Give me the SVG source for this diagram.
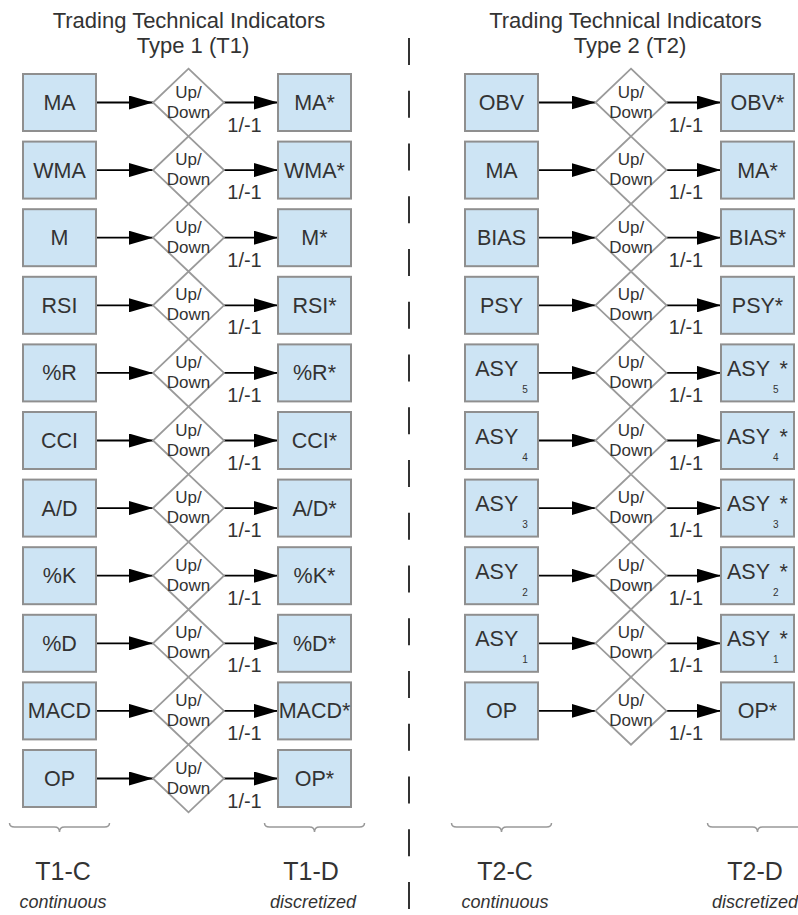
<svg xmlns="http://www.w3.org/2000/svg" xmlns:xlink="http://www.w3.org/1999/xlink" width="798" height="915" viewBox="0 0 798 915">
<style>
text{font-family:"Liberation Sans",Arial,sans-serif;fill:#333;text-anchor:middle}
.box{fill:#cde4f4;stroke:#8f8f8f;stroke-width:2}
.dia{fill:#fff;stroke:#9a9a9a;stroke-width:1.8}
.lbl{font-size:21.5px}
.ud{font-size:17px}
.val{font-size:20px}
.ttl{font-size:22px}
.grp{font-size:25px}
.sub{font-size:18px;font-style:italic}
.arr{stroke:#000;stroke-width:1.8;marker-end:url(#ah)}
.brace{fill:none;stroke:#999;stroke-width:1.5}
</style>
<defs>
<marker id="ah" markerUnits="userSpaceOnUse" markerWidth="24" markerHeight="14" refX="24" refY="7" orient="auto">
<path d="M0,0 L24,7 L0,14 z" fill="#000"/>
</marker>
<polygon id="dshape" class="dia" points="0,-33.8 35.5,0 0,33.8 -35.5,0"/>
</defs>
<rect width="798" height="915" fill="#fff"/>

<g id="titles">
<text class="ttl" x="189" y="28">Trading Technical Indicators</text>
<text class="ttl" x="193" y="53">Type 1 (T1)</text>
<text class="ttl" x="625.5" y="28">Trading Technical Indicators</text>
<text class="ttl" x="630" y="53">Type 2 (T2)</text>
</g>

<line id="divider" x1="409" y1="38" x2="409" y2="915" stroke="#333" stroke-width="2" stroke-dasharray="27 25.75"/>

<g id="connectors">
<line class="arr" x1="96" y1="102.5" x2="153" y2="102.5"/><line class="arr" x1="224" y1="102.5" x2="278" y2="102.5"/>
<line class="arr" x1="96" y1="170.1" x2="153" y2="170.1"/><line class="arr" x1="224" y1="170.1" x2="278" y2="170.1"/>
<line class="arr" x1="96" y1="237.7" x2="153" y2="237.7"/><line class="arr" x1="224" y1="237.7" x2="278" y2="237.7"/>
<line class="arr" x1="96" y1="305.3" x2="153" y2="305.3"/><line class="arr" x1="224" y1="305.3" x2="278" y2="305.3"/>
<line class="arr" x1="96" y1="372.9" x2="153" y2="372.9"/><line class="arr" x1="224" y1="372.9" x2="278" y2="372.9"/>
<line class="arr" x1="96" y1="440.5" x2="153" y2="440.5"/><line class="arr" x1="224" y1="440.5" x2="278" y2="440.5"/>
<line class="arr" x1="96" y1="508.1" x2="153" y2="508.1"/><line class="arr" x1="224" y1="508.1" x2="278" y2="508.1"/>
<line class="arr" x1="96" y1="575.7" x2="153" y2="575.7"/><line class="arr" x1="224" y1="575.7" x2="278" y2="575.7"/>
<line class="arr" x1="96" y1="643.3" x2="153" y2="643.3"/><line class="arr" x1="224" y1="643.3" x2="278" y2="643.3"/>
<line class="arr" x1="96" y1="710.9" x2="153" y2="710.9"/><line class="arr" x1="224" y1="710.9" x2="278" y2="710.9"/>
<line class="arr" x1="96" y1="778.5" x2="153" y2="778.5"/><line class="arr" x1="224" y1="778.5" x2="278" y2="778.5"/>

<line class="arr" x1="538" y1="102.5" x2="595.5" y2="102.5"/><line class="arr" x1="666.5" y1="102.5" x2="721" y2="102.5"/>
<line class="arr" x1="538" y1="170.1" x2="595.5" y2="170.1"/><line class="arr" x1="666.5" y1="170.1" x2="721" y2="170.1"/>
<line class="arr" x1="538" y1="237.7" x2="595.5" y2="237.7"/><line class="arr" x1="666.5" y1="237.7" x2="721" y2="237.7"/>
<line class="arr" x1="538" y1="305.3" x2="595.5" y2="305.3"/><line class="arr" x1="666.5" y1="305.3" x2="721" y2="305.3"/>
<line class="arr" x1="538" y1="372.9" x2="595.5" y2="372.9"/><line class="arr" x1="666.5" y1="372.9" x2="721" y2="372.9"/>
<line class="arr" x1="538" y1="440.5" x2="595.5" y2="440.5"/><line class="arr" x1="666.5" y1="440.5" x2="721" y2="440.5"/>
<line class="arr" x1="538" y1="508.1" x2="595.5" y2="508.1"/><line class="arr" x1="666.5" y1="508.1" x2="721" y2="508.1"/>
<line class="arr" x1="538" y1="575.7" x2="595.5" y2="575.7"/><line class="arr" x1="666.5" y1="575.7" x2="721" y2="575.7"/>
<line class="arr" x1="538" y1="643.3" x2="595.5" y2="643.3"/><line class="arr" x1="666.5" y1="643.3" x2="721" y2="643.3"/>
<line class="arr" x1="538" y1="710.9" x2="595.5" y2="710.9"/><line class="arr" x1="666.5" y1="710.9" x2="721" y2="710.9"/>

<g id="conn-labels">
<text class="val" x="244.5" y="131.5">1/-1</text>
<text class="val" x="244.5" y="199.1">1/-1</text>
<text class="val" x="244.5" y="266.7">1/-1</text>
<text class="val" x="244.5" y="334.3">1/-1</text>
<text class="val" x="244.5" y="401.9">1/-1</text>
<text class="val" x="244.5" y="469.5">1/-1</text>
<text class="val" x="244.5" y="537.1">1/-1</text>
<text class="val" x="244.5" y="604.7">1/-1</text>
<text class="val" x="244.5" y="672.3">1/-1</text>
<text class="val" x="244.5" y="739.9">1/-1</text>
<text class="val" x="244.5" y="807.5">1/-1</text>
<text class="val" x="686" y="131.5">1/-1</text>
<text class="val" x="686" y="199.1">1/-1</text>
<text class="val" x="686" y="266.7">1/-1</text>
<text class="val" x="686" y="334.3">1/-1</text>
<text class="val" x="686" y="401.9">1/-1</text>
<text class="val" x="686" y="469.5">1/-1</text>
<text class="val" x="686" y="537.1">1/-1</text>
<text class="val" x="686" y="604.7">1/-1</text>
<text class="val" x="686" y="672.3">1/-1</text>
<text class="val" x="686" y="739.9">1/-1</text>
</g>
</g>

<g id="t1-continuous">
<g id="t1c-ma" transform="translate(23,74)"><rect class="box" width="73" height="57"/><text class="lbl" x="36.5" y="36">MA</text></g>
<g id="t1c-wma" transform="translate(23,141.6)"><rect class="box" width="73" height="57"/><text class="lbl" x="36.5" y="36">WMA</text></g>
<g id="t1c-m" transform="translate(23,209.2)"><rect class="box" width="73" height="57"/><text class="lbl" x="36.5" y="36">M</text></g>
<g id="t1c-rsi" transform="translate(23,276.8)"><rect class="box" width="73" height="57"/><text class="lbl" x="36.5" y="36">RSI</text></g>
<g id="t1c-r" transform="translate(23,344.4)"><rect class="box" width="73" height="57"/><text class="lbl" x="36.5" y="36">%R</text></g>
<g id="t1c-cci" transform="translate(23,412)"><rect class="box" width="73" height="57"/><text class="lbl" x="36.5" y="36">CCI</text></g>
<g id="t1c-ad" transform="translate(23,479.6)"><rect class="box" width="73" height="57"/><text class="lbl" x="36.5" y="36">A/D</text></g>
<g id="t1c-k" transform="translate(23,547.2)"><rect class="box" width="73" height="57"/><text class="lbl" x="36.5" y="36">%K</text></g>
<g id="t1c-d" transform="translate(23,614.8)"><rect class="box" width="73" height="57"/><text class="lbl" x="36.5" y="36">%D</text></g>
<g id="t1c-macd" transform="translate(23,682.4)"><rect class="box" width="73" height="57"/><text class="lbl" x="36.5" y="36">MACD</text></g>
<g id="t1c-op" transform="translate(23,750)"><rect class="box" width="73" height="57"/><text class="lbl" x="36.5" y="36">OP</text></g>
</g>

<g id="t1-decisions">
<g id="t1-ud-1" transform="translate(188.5,102.5)"><use xlink:href="#dshape"/><text class="ud" y="-5">Up/</text><text class="ud" y="15">Down</text></g>
<g id="t1-ud-2" transform="translate(188.5,170.1)"><use xlink:href="#dshape"/><text class="ud" y="-5">Up/</text><text class="ud" y="15">Down</text></g>
<g id="t1-ud-3" transform="translate(188.5,237.7)"><use xlink:href="#dshape"/><text class="ud" y="-5">Up/</text><text class="ud" y="15">Down</text></g>
<g id="t1-ud-4" transform="translate(188.5,305.3)"><use xlink:href="#dshape"/><text class="ud" y="-5">Up/</text><text class="ud" y="15">Down</text></g>
<g id="t1-ud-5" transform="translate(188.5,372.9)"><use xlink:href="#dshape"/><text class="ud" y="-5">Up/</text><text class="ud" y="15">Down</text></g>
<g id="t1-ud-6" transform="translate(188.5,440.5)"><use xlink:href="#dshape"/><text class="ud" y="-5">Up/</text><text class="ud" y="15">Down</text></g>
<g id="t1-ud-7" transform="translate(188.5,508.1)"><use xlink:href="#dshape"/><text class="ud" y="-5">Up/</text><text class="ud" y="15">Down</text></g>
<g id="t1-ud-8" transform="translate(188.5,575.7)"><use xlink:href="#dshape"/><text class="ud" y="-5">Up/</text><text class="ud" y="15">Down</text></g>
<g id="t1-ud-9" transform="translate(188.5,643.3)"><use xlink:href="#dshape"/><text class="ud" y="-5">Up/</text><text class="ud" y="15">Down</text></g>
<g id="t1-ud-10" transform="translate(188.5,710.9)"><use xlink:href="#dshape"/><text class="ud" y="-5">Up/</text><text class="ud" y="15">Down</text></g>
<g id="t1-ud-11" transform="translate(188.5,778.5)"><use xlink:href="#dshape"/><text class="ud" y="-5">Up/</text><text class="ud" y="15">Down</text></g>
</g>

<g id="t1-discretized">
<g id="t1d-ma" transform="translate(278,74)"><rect class="box" width="73" height="57"/><text class="lbl" x="36.5" y="36">MA*</text></g>
<g id="t1d-wma" transform="translate(278,141.6)"><rect class="box" width="73" height="57"/><text class="lbl" x="36.5" y="36">WMA*</text></g>
<g id="t1d-m" transform="translate(278,209.2)"><rect class="box" width="73" height="57"/><text class="lbl" x="36.5" y="36">M*</text></g>
<g id="t1d-rsi" transform="translate(278,276.8)"><rect class="box" width="73" height="57"/><text class="lbl" x="36.5" y="36">RSI*</text></g>
<g id="t1d-r" transform="translate(278,344.4)"><rect class="box" width="73" height="57"/><text class="lbl" x="36.5" y="36">%R*</text></g>
<g id="t1d-cci" transform="translate(278,412)"><rect class="box" width="73" height="57"/><text class="lbl" x="36.5" y="36">CCI*</text></g>
<g id="t1d-ad" transform="translate(278,479.6)"><rect class="box" width="73" height="57"/><text class="lbl" x="36.5" y="36">A/D*</text></g>
<g id="t1d-k" transform="translate(278,547.2)"><rect class="box" width="73" height="57"/><text class="lbl" x="36.5" y="36">%K*</text></g>
<g id="t1d-d" transform="translate(278,614.8)"><rect class="box" width="73" height="57"/><text class="lbl" x="36.5" y="36">%D*</text></g>
<g id="t1d-macd" transform="translate(278,682.4)"><rect class="box" width="73" height="57"/><text class="lbl" x="36.5" y="36" font-size="20">MACD*</text></g>
<g id="t1d-op" transform="translate(278,750)"><rect class="box" width="73" height="57"/><text class="lbl" x="36.5" y="36">OP*</text></g>
</g>

<g id="t2-continuous">
<g id="t2c-obv" transform="translate(465,74)"><rect class="box" width="73" height="57"/><text class="lbl" x="36.5" y="36">OBV</text></g>
<g id="t2c-ma" transform="translate(465,141.6)"><rect class="box" width="73" height="57"/><text class="lbl" x="36.5" y="36">MA</text></g>
<g id="t2c-bias" transform="translate(465,209.2)"><rect class="box" width="73" height="57"/><text class="lbl" x="36.5" y="36">BIAS</text></g>
<g id="t2c-psy" transform="translate(465,276.8)"><rect class="box" width="73" height="57"/><text class="lbl" x="36.5" y="36">PSY</text></g>
<g id="t2c-asy5" transform="translate(465,344.4)"><rect class="box" width="73" height="57"/><text class="lbl" x="36.5" y="31.5">ASY<tspan font-size="10" dx="4" dy="17">5</tspan></text></g>
<g id="t2c-asy4" transform="translate(465,412)"><rect class="box" width="73" height="57"/><text class="lbl" x="36.5" y="31.5">ASY<tspan font-size="10" dx="4" dy="17">4</tspan></text></g>
<g id="t2c-asy3" transform="translate(465,479.6)"><rect class="box" width="73" height="57"/><text class="lbl" x="36.5" y="31.5">ASY<tspan font-size="10" dx="4" dy="17">3</tspan></text></g>
<g id="t2c-asy2" transform="translate(465,547.2)"><rect class="box" width="73" height="57"/><text class="lbl" x="36.5" y="31.5">ASY<tspan font-size="10" dx="4" dy="17">2</tspan></text></g>
<g id="t2c-asy1" transform="translate(465,614.8)"><rect class="box" width="73" height="57"/><text class="lbl" x="36.5" y="31.5">ASY<tspan font-size="10" dx="4" dy="17">1</tspan></text></g>
<g id="t2c-op" transform="translate(465,682.4)"><rect class="box" width="73" height="57"/><text class="lbl" x="36.5" y="36">OP</text></g>
</g>

<g id="t2-decisions">
<g id="t2-ud-1" transform="translate(631,102.5)"><use xlink:href="#dshape"/><text class="ud" y="-5">Up/</text><text class="ud" y="15">Down</text></g>
<g id="t2-ud-2" transform="translate(631,170.1)"><use xlink:href="#dshape"/><text class="ud" y="-5">Up/</text><text class="ud" y="15">Down</text></g>
<g id="t2-ud-3" transform="translate(631,237.7)"><use xlink:href="#dshape"/><text class="ud" y="-5">Up/</text><text class="ud" y="15">Down</text></g>
<g id="t2-ud-4" transform="translate(631,305.3)"><use xlink:href="#dshape"/><text class="ud" y="-5">Up/</text><text class="ud" y="15">Down</text></g>
<g id="t2-ud-5" transform="translate(631,372.9)"><use xlink:href="#dshape"/><text class="ud" y="-5">Up/</text><text class="ud" y="15">Down</text></g>
<g id="t2-ud-6" transform="translate(631,440.5)"><use xlink:href="#dshape"/><text class="ud" y="-5">Up/</text><text class="ud" y="15">Down</text></g>
<g id="t2-ud-7" transform="translate(631,508.1)"><use xlink:href="#dshape"/><text class="ud" y="-5">Up/</text><text class="ud" y="15">Down</text></g>
<g id="t2-ud-8" transform="translate(631,575.7)"><use xlink:href="#dshape"/><text class="ud" y="-5">Up/</text><text class="ud" y="15">Down</text></g>
<g id="t2-ud-9" transform="translate(631,643.3)"><use xlink:href="#dshape"/><text class="ud" y="-5">Up/</text><text class="ud" y="15">Down</text></g>
<g id="t2-ud-10" transform="translate(631,710.9)"><use xlink:href="#dshape"/><text class="ud" y="-5">Up/</text><text class="ud" y="15">Down</text></g>
</g>

<g id="t2-discretized">
<g id="t2d-obv" transform="translate(721,74)"><rect class="box" width="73" height="57"/><text class="lbl" x="36.5" y="36">OBV*</text></g>
<g id="t2d-ma" transform="translate(721,141.6)"><rect class="box" width="73" height="57"/><text class="lbl" x="36.5" y="36">MA*</text></g>
<g id="t2d-bias" transform="translate(721,209.2)"><rect class="box" width="73" height="57"/><text class="lbl" x="36.5" y="36">BIAS*</text></g>
<g id="t2d-psy" transform="translate(721,276.8)"><rect class="box" width="73" height="57"/><text class="lbl" x="36.5" y="36">PSY*</text></g>
<g id="t2d-asy5" transform="translate(721,344.4)"><rect class="box" width="73" height="57"/><text class="lbl" x="36.5" y="31.5">ASY<tspan font-size="10" dx="3" dy="17">5</tspan><tspan dx="1" dy="-17">*</tspan></text></g>
<g id="t2d-asy4" transform="translate(721,412)"><rect class="box" width="73" height="57"/><text class="lbl" x="36.5" y="31.5">ASY<tspan font-size="10" dx="3" dy="17">4</tspan><tspan dx="1" dy="-17">*</tspan></text></g>
<g id="t2d-asy3" transform="translate(721,479.6)"><rect class="box" width="73" height="57"/><text class="lbl" x="36.5" y="31.5">ASY<tspan font-size="10" dx="3" dy="17">3</tspan><tspan dx="1" dy="-17">*</tspan></text></g>
<g id="t2d-asy2" transform="translate(721,547.2)"><rect class="box" width="73" height="57"/><text class="lbl" x="36.5" y="31.5">ASY<tspan font-size="10" dx="3" dy="17">2</tspan><tspan dx="1" dy="-17">*</tspan></text></g>
<g id="t2d-asy1" transform="translate(721,614.8)"><rect class="box" width="73" height="57"/><text class="lbl" x="36.5" y="31.5">ASY<tspan font-size="10" dx="3" dy="17">1</tspan><tspan dx="1" dy="-17">*</tspan></text></g>
<g id="t2d-op" transform="translate(721,682.4)"><rect class="box" width="73" height="57"/><text class="lbl" x="36.5" y="36">OP*</text></g>
</g>

<g id="group-labels">
<path class="brace" d="M9.5,823 Q9.5,827 14.5,827 L54.5,827 Q59.5,827 59.5,832 Q59.5,827 64.5,827 L104.5,827 Q109.5,827 109.5,823"/>
<path class="brace" d="M264.5,823 Q264.5,827 269.5,827 L309.5,827 Q314.5,827 314.5,832 Q314.5,827 319.5,827 L359.5,827 Q364.5,827 364.5,823"/>
<path class="brace" d="M451.5,823 Q451.5,827 456.5,827 L496.5,827 Q501.5,827 501.5,832 Q501.5,827 506.5,827 L546.5,827 Q551.5,827 551.5,823"/>
<path class="brace" d="M707.5,823 Q707.5,827 712.5,827 L752.5,827 Q757.5,827 757.5,832 Q757.5,827 762.5,827 L802.5,827 Q807.5,827 807.5,823"/>
<text class="grp" x="63" y="880">T1-C</text>
<text class="sub" x="63" y="908">continuous</text>
<text class="grp" x="311" y="880">T1-D</text>
<text class="sub" x="313" y="908">discretized</text>
<text class="grp" x="505" y="880">T2-C</text>
<text class="sub" x="505" y="908">continuous</text>
<text class="grp" x="755" y="880">T2-D</text>
<text class="sub" x="755" y="908">discretized</text>
</g>
</svg>
